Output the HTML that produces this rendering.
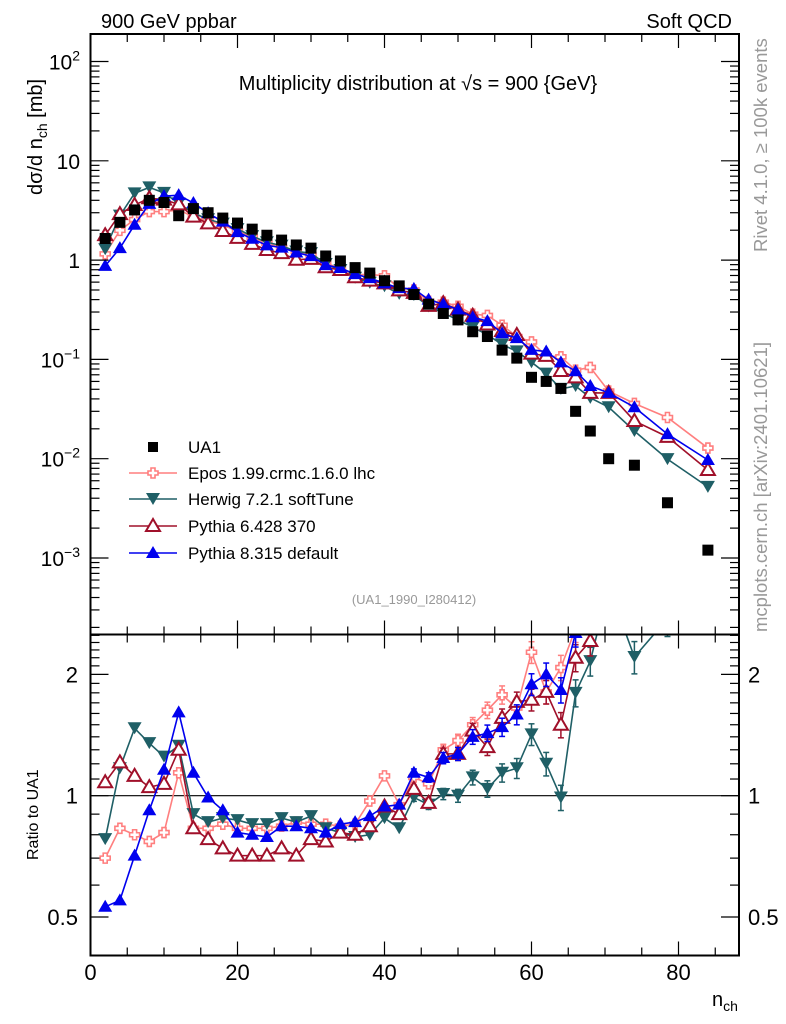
<!DOCTYPE html>
<html><head><meta charset="utf-8">
<style>
html,body{margin:0;padding:0;background:#fff;}
svg{display:block;font-family:"Liberation Sans",sans-serif;}
</style></head>
<body>
<svg id="chart" width="786" height="1024" viewBox="0 0 786 1024" xmlns="http://www.w3.org/2000/svg">
<text x="101" y="28" font-size="20">900 GeV ppbar</text>
<text x="732" y="28" font-size="20" text-anchor="end">Soft QCD</text>
<text x="418" y="90" font-size="20" text-anchor="middle">Multiplicity distribution at √s = 900 {GeV}</text>
<text x="414" y="604" font-size="13" fill="#999" text-anchor="middle">(UA1_1990_I280412)</text>
<text transform="translate(767,252) rotate(-90)" font-size="18.5" fill="#999">Rivet 4.1.0, ≥ 100k events</text>
<text transform="translate(767,632) rotate(-90)" font-size="18.5" fill="#999">mcplots.cern.ch [arXiv:2401.10621]</text>
<text transform="translate(42,195) rotate(-90)" font-size="20">dσ/d n<tspan font-size="14" dy="5">ch</tspan><tspan dy="-5"> [mb]</tspan></text>
<text transform="translate(38,860) rotate(-90)" font-size="16">Ratio to UA1</text>
<text x="712" y="1006" font-size="20">n<tspan font-size="14" dy="5">ch</tspan></text>
<g id="g"></g>
</svg>
<script>
// ---- data ----
const nch = [2,4,6,8,10,12,14,16,18,20,22,24,26,28,30,32,34,36,38,40,42,44,46,48,50,52,54,56,58,60,62,64,66,68,70.5,74,78.5,84];
const ua1 = [1.65,2.4,3.2,4.0,3.8,2.8,3.3,3.0,2.65,2.36,2.05,1.78,1.59,1.42,1.32,1.1,0.98,0.84,0.74,0.62,0.55,0.45,0.36,0.29,0.25,0.19,0.17,0.124,0.103,0.066,0.06,0.051,0.030,0.019,0.010,0.0086,0.0036,0.0012];
const ratioEpos = [0.70,0.83,0.80,0.77,0.81,1.14,0.83,0.83,0.85,0.83,0.83,0.83,0.84,0.86,0.85,0.85,0.84,0.85,0.97,1.12,0.95,1.11,1.07,1.30,1.37,1.50,1.63,1.78,1.65,2.27,1.81,2.08];
const ratioHerwig = [0.78,1.17,1.47,1.35,1.25,1.33,0.90,0.86,0.88,0.87,0.85,0.85,0.88,0.86,0.89,0.83,0.81,0.79,0.80,0.88,0.83,0.99,0.95,1.01,1.0,1.11,1.04,1.14,1.17,1.42,1.20,0.99];
const ratioPy6 = [1.08,1.21,1.12,1.05,1.07,1.30,0.83,0.78,0.74,0.71,0.71,0.71,0.74,0.71,0.78,0.77,0.81,0.80,0.84,0.94,0.90,1.04,0.96,1.27,1.27,1.45,1.32,1.56,1.71,1.73,1.81,1.50];
const ratioPy8 = [0.53,0.55,0.71,0.92,1.16,1.61,1.14,0.99,0.92,0.81,0.80,0.79,0.84,0.84,0.83,0.81,0.85,0.86,0.89,0.94,0.95,1.14,1.11,1.24,1.27,1.40,1.43,1.48,1.59,1.89,2.0,1.83];
const tailEpos = [0.078,0.083,0.048,0.036,0.026,0.0128];
const tailHerwig = [0.054,0.041,0.033,0.019,0.0099,0.0052];
const tailPy6 = [0.066,0.046,0.046,0.024,0.0166,0.0077];
const tailPy8 = [0.076,0.054,0.046,0.033,0.0177,0.0097];
const mainTicks = ["10⁻³","10⁻²","10⁻¹","1","10","10²"];
const xTickLabels = ["0","20","40","60","80"];

// ---- geometry ----
const L=90.5,R=739,T=34,S=634.5,B=955.5;
const X=v=>L+(v)*7.35;
const YM=v=>61.5-Math.log10(v/100)*99.3;
const YR=r=>795.7-Math.log2(r)*121.3;
const NS='http://www.w3.org/2000/svg';
const g=document.getElementById('g');
function el(t,a,p){const e=document.createElementNS(NS,t);for(const k in a)e.setAttribute(k,a[k]);(p||g).appendChild(e);return e;}

function series(ratio,tail){return nch.map((n,i)=>i<ratio.length?ua1[i]*ratio[i]:tail[i-ratio.length]);}
const models=[
 {name:'epos',col:'#ff7f7f',m:'cross',v:series(ratioEpos,tailEpos)},
 {name:'herwig',col:'#1f5f66',m:'down',v:series(ratioHerwig,tailHerwig)},
 {name:'pythia6',col:'#a0102a',m:'openup',v:series(ratioPy6,tailPy6)},
 {name:'pythia8',col:'#0000ee',m:'up',v:series(ratioPy8,tailPy8)}
];

function marker(par,type,x,y,col){
  let e;
  if(type==='sq') e=el('rect',{x:x-5.5,y:y-5.5,width:11,height:11,fill:'#000'},par);
  else if(type==='up') e=el('polygon',{points:`${x},${y-7} ${x-7},${y+5} ${x+7},${y+5}`,fill:col},par);
  else if(type==='openup') e=el('polygon',{points:`${x},${y-7} ${x-7},${y+5} ${x+7},${y+5}`,fill:'#fff',stroke:col,'stroke-width':2},par);
  else if(type==='down') e=el('polygon',{points:`${x},${y+6} ${x-7},${y-6} ${x+7},${y-6}`,fill:col},par);
  else e=el('path',{d:`M${x-2},${y-5}h4v3h3v4h-3v3h-4v-3h-3v-4h3z`,fill:'#fff',stroke:col,'stroke-width':1.6},par);
  return e;
}

const defs=el('defs',{});
const c1=el('clipPath',{id:'cm'},defs);el('rect',{x:L,y:T,width:R-L,height:S-T},c1);
const c2=el('clipPath',{id:'cr'},defs);el('rect',{x:L,y:S,width:R-L,height:B-S},c2);

// ---- main panel ----
const mg=el('g',{'clip-path':'url(#cm)'});


models.forEach(m=>{
  const pts=m.v.map((v,i)=>X(nch[i])+','+YM(v)).join(' ');
  const pl=el('polyline',{points:pts,fill:'none',stroke:m.col,'stroke-width':1.6},mg);
  
  
  m.v.forEach((v,i)=>{const mk=marker(mg,m.m,X(nch[i]),YM(v),m.col);
    
    });
});
ua1.forEach((v,i)=>{const mk=marker(mg,'sq',X(nch[i]),YM(v));
  
  });

// ---- ratio panel ----
const rg=el('g',{'clip-path':'url(#cr)'});


el('line',{x1:L,x2:R,y1:YR(1),y2:YR(1),stroke:'#000','stroke-width':1.2},rg);
models.forEach(m=>{
  const r=m.v.map((v,i)=>v/ua1[i]);
  const pl=el('polyline',{points:r.map((v,i)=>X(nch[i])+','+YR(v)).join(' '),fill:'none',stroke:m.col,'stroke-width':1.6},rg);
  
  
  r.forEach((v,i)=>{
    const x=X(nch[i]);const e=i<19?0:0.012+0.005*(i-19);
    if(e>0.02){el('line',{x1:x,x2:x,y1:YR(v*(1+e)),y2:YR(v*(1-e)),stroke:m.col,'stroke-width':1.5},rg);
      el('line',{x1:x-3,x2:x+3,y1:YR(v*(1+e)),y2:YR(v*(1+e)),stroke:m.col,'stroke-width':1.5},rg);
      el('line',{x1:x-3,x2:x+3,y1:YR(v*(1-e)),y2:YR(v*(1-e)),stroke:m.col,'stroke-width':1.5},rg);}
    const mk=marker(rg,m.m,x,YR(v),m.col);
    
    
  });
});

// ---- frames & ticks ----
el('rect',{x:L,y:T,width:R-L,height:S-T,fill:'none',stroke:'#000','stroke-width':2});
el('rect',{x:L,y:S,width:R-L,height:B-S,fill:'none',stroke:'#000','stroke-width':2});
for(let v=0;v<=88;v+=5){
  const x=X(v),len=v%20===0?14:8;
  [[T,1],[S,-1],[S,1],[B,-1]].forEach(([y,d])=>el('line',{x1:x,x2:x,y1:y,y2:y+d*len,stroke:'#000','stroke-width':1.2}));
}
xTickLabels.forEach((t,i)=>{const tx=el('text',{x:X(i*20),y:980,'font-size':22,'text-anchor':'middle'});tx.textContent=t;
  
  });
for(let d=-4;d<=2;d++){for(let k=1;k<10;k++){const v=k*Math.pow(10,d);const y=YM(v);if(y<T||y>S)continue;
  const len=k===1?18:9;
  el('line',{x1:L,x2:L+len,y1:y,y2:y,stroke:'#000','stroke-width':1.2});
  el('line',{x1:R,x2:R-len,y1:y,y2:y,stroke:'#000','stroke-width':1.2});}}
mainTicks.forEach((t,i)=>{const v=Math.pow(10,i-3);const tx=el('text',{x:80,y:YM(v)+8,'font-size':21,'text-anchor':'end'});
  if(t.length>2){tx.textContent=t.slice(0,2);const ts=el('tspan',{'font-size':14,dy:-9},tx);ts.textContent=t.slice(2).replace('⁻','−').replace('³','3').replace('²','2').replace('¹','1');}
  else tx.textContent=t;
  
  });
for(let r=0.4;r<=2.55;r+=0.1){const y=YR(r);if(y<S||y>B)continue;const major=Math.abs(r-0.5)<1e-6||Math.abs(r-1)<1e-6||Math.abs(r-2)<1e-6;
  const len=major?18:9;
  el('line',{x1:L,x2:L+len,y1:y,y2:y,stroke:'#000','stroke-width':1.2});
  el('line',{x1:R,x2:R-len,y1:y,y2:y,stroke:'#000','stroke-width':1.2});}
[['2',2],['1',1],['0.5',0.5]].forEach(([t,r])=>{
  const a=el('text',{x:78,y:YR(r)+8,'font-size':22,'text-anchor':'end'});a.textContent=t;
  
  
  const b=el('text',{x:748,y:YR(r)+8,'font-size':22});b.textContent=t;
  
  });

// ---- legend ----
const legendNames=['UA1','Epos 1.99.crmc.1.6.0 lhc','Herwig 7.2.1 softTune','Pythia 6.428 370','Pythia 8.315 default'];
const legendY=[447,473,499,526,553];
legendNames.forEach((n,i)=>{
  const lg=el('g',{});
  
  
  const y=legendY[i];
  if(i===0){el('rect',{x:148,y:y-5,width:10,height:10,fill:'#000'},lg);}
  else{const m=models[i-1];el('line',{x1:129,x2:177,y1:y,y2:y,stroke:m.col,'stroke-width':1.6},lg);marker(lg,m.m,153,y,m.col);}
  const t=el('text',{x:188,y:y+6,'font-size':17},lg);t.textContent=n;
});
</script>
</body></html>
